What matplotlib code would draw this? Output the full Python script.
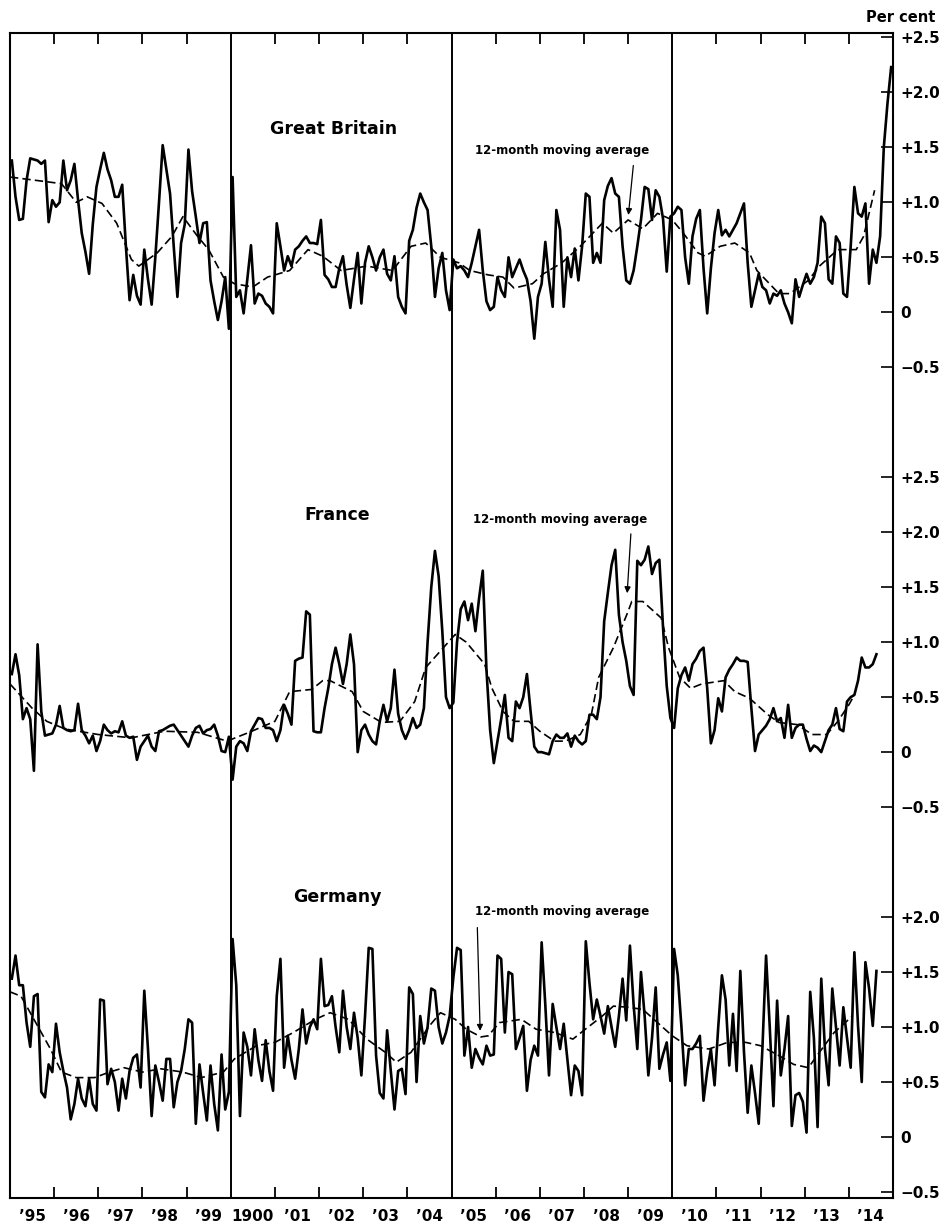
import matplotlib.pyplot as plt
import numpy as np

plt.rcParams['font.family'] = ['DejaVu Sans']
plt.rcParams['font.weight'] = 'bold'

# monthly values, per cent, starting January 1895
gb = [1.38, 1.05, 0.84, 0.85, 1.2, 1.4, 1.39, 1.38, 1.35, 1.38, 0.82, 1.02,
      0.96, 1.0, 1.38, 1.11, 1.2, 1.35, 1.02, 0.72, 0.55, 0.35, 0.8, 1.14,
      1.3, 1.45, 1.3, 1.2, 1.05, 1.05, 1.16, 0.6, 0.11, 0.34, 0.15, 0.07,
      0.57, 0.3, 0.07, 0.5, 1.0, 1.52, 1.3, 1.08, 0.6, 0.14, 0.63, 0.8,
      1.48, 1.1, 0.87, 0.63, 0.81, 0.82, 0.29, 0.1, -0.07, 0.1, 0.32, -0.15,
      1.23, 0.14, 0.2, -0.01, 0.3, 0.61, 0.08, 0.17, 0.15, 0.08, 0.05, -0.01,
      0.81, 0.6, 0.38, 0.51, 0.42, 0.57, 0.6, 0.65, 0.69, 0.63, 0.63, 0.62,
      0.84, 0.34, 0.3, 0.23, 0.23, 0.4, 0.51, 0.25, 0.04, 0.3, 0.54, 0.08,
      0.45, 0.6, 0.5, 0.38, 0.5, 0.57, 0.35, 0.29, 0.51, 0.14, 0.05, -0.01,
      0.65, 0.75, 0.95, 1.08, 1.0, 0.93, 0.6, 0.14, 0.4, 0.54, 0.2, 0.02,
      0.48, 0.4, 0.42, 0.38, 0.32, 0.45, 0.6, 0.75, 0.38, 0.1, 0.02, 0.05,
      0.32, 0.2, 0.14, 0.5, 0.32, 0.4, 0.48, 0.38, 0.3, 0.1, -0.24, 0.14,
      0.26, 0.64, 0.3, 0.05, 0.93, 0.75, 0.05, 0.5, 0.32, 0.58, 0.29, 0.6,
      1.08, 1.05, 0.45, 0.54, 0.45, 1.02, 1.15, 1.22, 1.08, 1.05, 0.6, 0.29,
      0.26, 0.38, 0.6, 0.84, 1.14, 1.12, 0.84, 1.11, 1.05, 0.85, 0.37, 0.87,
      0.9, 0.96, 0.93, 0.5, 0.26, 0.69, 0.85, 0.93, 0.4, -0.01, 0.4, 0.72,
      0.93, 0.7, 0.75, 0.69, 0.75, 0.81, 0.9, 0.99, 0.45, 0.05, 0.2, 0.35,
      0.23, 0.2, 0.08, 0.17, 0.15, 0.2, 0.08, 0.0, -0.1, 0.3, 0.14, 0.25,
      0.35, 0.26, 0.32, 0.45, 0.87, 0.81, 0.3, 0.26, 0.69, 0.63, 0.17, 0.14,
      0.6, 1.14, 0.9, 0.87, 0.99, 0.26, 0.57, 0.45, 0.69, 1.5, 1.9, 2.23]

fr = [0.71, 0.89, 0.7, 0.3, 0.4, 0.3, -0.17, 0.98, 0.37, 0.15, 0.16, 0.17,
      0.25, 0.42, 0.22, 0.2, 0.19, 0.2, 0.44, 0.2, 0.15, 0.08, 0.15, 0.01,
      0.1, 0.25, 0.2, 0.17, 0.19, 0.18, 0.28, 0.15, 0.13, 0.14, -0.07, 0.05,
      0.1, 0.15, 0.05, 0.01, 0.19, 0.2, 0.22, 0.24, 0.25, 0.2, 0.15, 0.1,
      0.05, 0.15, 0.22, 0.24, 0.17, 0.2, 0.21, 0.25, 0.15, 0.01, 0.0, 0.14,
      -0.25, 0.05, 0.1, 0.08, 0.01, 0.19, 0.25, 0.31, 0.3, 0.22, 0.22, 0.2,
      0.1, 0.2, 0.43, 0.35, 0.25, 0.83, 0.85, 0.86, 1.28, 1.25, 0.19, 0.18,
      0.18, 0.4, 0.58, 0.8, 0.95, 0.8, 0.62, 0.8, 1.07, 0.8, 0.0, 0.2,
      0.25, 0.16, 0.1, 0.07, 0.28, 0.43, 0.28, 0.4, 0.75, 0.35, 0.2, 0.12,
      0.2, 0.31, 0.22, 0.25, 0.4, 1.0, 1.5, 1.83, 1.6, 1.1, 0.5, 0.4,
      0.45, 1.0, 1.3, 1.37, 1.2, 1.35, 1.1, 1.4, 1.65, 0.75, 0.2, -0.1,
      0.1, 0.3, 0.52, 0.13, 0.1, 0.46, 0.4, 0.5, 0.71, 0.37, 0.05, 0.0,
      0.0, -0.01, -0.02, 0.1, 0.16, 0.13, 0.13, 0.17, 0.05, 0.15, 0.1, 0.07,
      0.1, 0.34, 0.34, 0.3, 0.5, 1.19, 1.45, 1.7, 1.84, 1.25, 1.0, 0.83,
      0.6, 0.52, 1.74, 1.7, 1.75, 1.87, 1.62, 1.72, 1.75, 1.13, 0.6, 0.31,
      0.22, 0.58, 0.7, 0.77, 0.65, 0.8, 0.85, 0.92, 0.95, 0.58, 0.08, 0.2,
      0.49, 0.37, 0.68, 0.75, 0.8, 0.86, 0.83, 0.83, 0.82, 0.4, 0.01, 0.16,
      0.2, 0.24, 0.3, 0.4, 0.28, 0.31, 0.13, 0.43, 0.13, 0.22, 0.25, 0.25,
      0.12, 0.01, 0.06, 0.04, 0.0, 0.1, 0.2, 0.25, 0.4, 0.21, 0.19, 0.46,
      0.5, 0.52, 0.65, 0.86, 0.77, 0.77, 0.8, 0.89]

de = [1.44, 1.65, 1.38, 1.38, 1.04, 0.82, 1.28, 1.3, 0.41, 0.36, 0.66, 0.59,
      1.03, 0.77, 0.6, 0.45, 0.16, 0.3, 0.53, 0.35, 0.28, 0.53, 0.3, 0.24,
      1.25, 1.24, 0.48, 0.62, 0.5, 0.24, 0.53, 0.35, 0.6, 0.72, 0.75, 0.45,
      1.33, 0.8, 0.19, 0.65, 0.5, 0.33, 0.71, 0.71, 0.27, 0.5, 0.6, 0.8,
      1.07, 1.04, 0.12, 0.66, 0.4, 0.15, 0.65, 0.3, 0.06, 0.75, 0.25, 0.41,
      1.8, 1.38, 0.19, 0.95, 0.82, 0.56, 0.98, 0.7, 0.51, 0.88, 0.6, 0.42,
      1.28, 1.62, 0.63, 0.92, 0.7, 0.53, 0.8, 1.16, 0.85, 1.0, 1.07, 0.98,
      1.62, 1.19, 1.2, 1.28, 1.0, 0.77, 1.33, 1.0, 0.8, 1.13, 0.9, 0.56,
      1.1, 1.72, 1.71, 0.74, 0.4, 0.35, 0.97, 0.6, 0.25, 0.6, 0.62, 0.39,
      1.36, 1.3, 0.5, 1.1, 0.85, 1.0, 1.35, 1.33, 1.0, 0.85, 0.95, 1.1,
      1.45, 1.72, 1.7, 0.74, 1.0, 0.63, 0.8, 0.72, 0.66, 0.83, 0.74, 0.75,
      1.65, 1.62, 0.95, 1.5, 1.48, 0.8, 0.9, 1.01, 0.42, 0.7, 0.83, 0.74,
      1.77, 1.2, 0.56, 1.21, 1.0, 0.8, 1.03, 0.7, 0.38, 0.65, 0.6, 0.38,
      1.78, 1.4, 1.07, 1.25, 1.1, 0.94, 1.19, 1.0, 0.82, 1.1, 1.44, 1.06,
      1.74, 1.2, 0.8, 1.5, 1.1, 0.56, 0.9, 1.36, 0.62, 0.75, 0.86, 0.51,
      1.71, 1.47, 1.0, 0.47, 0.8, 0.8, 0.85, 0.92, 0.33, 0.6, 0.8, 0.47,
      1.0, 1.47, 1.25, 0.65, 1.12, 0.6, 1.51, 0.77, 0.22, 0.65, 0.4, 0.12,
      0.8, 1.65, 1.0, 0.28, 1.24, 0.56, 0.8, 1.1, 0.1, 0.38, 0.4, 0.32,
      0.04, 1.32, 0.9, 0.09, 1.44, 0.8, 0.47, 1.35, 1.0, 0.65, 1.18, 0.9,
      0.63, 1.68, 1.01, 0.5, 1.59, 1.35, 1.01, 1.51]

# 12-month moving averages (month index, value)
gb_ma_month = [0, 7, 14, 18, 21, 25, 29, 33, 35, 40, 44, 47, 51, 54, 58, 61, 66, 70, 76, 81,
               85, 90, 97, 104, 109, 113, 117, 122, 125, 130, 134, 137, 142, 145, 150, 155,
               161, 164, 168, 172, 176, 180, 183, 187, 189, 193, 197, 201, 203, 209, 212,
               217, 220, 225, 230, 232, 235]
gb_ma = [1.23, 1.2, 1.17, 1.0, 1.05, 0.99, 0.81, 0.48, 0.42, 0.54, 0.69, 0.87, 0.69, 0.57, 0.32,
         0.26, 0.23, 0.32, 0.38, 0.57, 0.51, 0.38, 0.42, 0.38, 0.6, 0.63, 0.5, 0.45, 0.38, 0.34,
         0.32, 0.22, 0.26, 0.35, 0.45, 0.6, 0.81, 0.72, 0.84, 0.76, 0.9, 0.84, 0.72, 0.54, 0.51,
         0.6, 0.63, 0.54, 0.38, 0.17, 0.17, 0.29, 0.42, 0.57, 0.57, 0.69, 1.11]

fr_ma_month = [0, 6, 10, 15, 24, 33, 42, 51, 59, 65, 72, 76, 82, 85, 87, 93, 96, 101, 106, 110,
               113, 117, 121, 124, 129, 131, 134, 137, 141, 144, 148, 151, 155, 158, 160, 164,
               168, 169, 172, 177, 179, 182, 185, 188, 194, 197, 201, 206, 209, 214, 218, 222,
               225, 228, 229]
fr_ma = [0.62, 0.4, 0.28, 0.21, 0.16, 0.13, 0.19, 0.18, 0.1, 0.18, 0.28, 0.55, 0.57, 0.65, 0.65,
         0.55, 0.37, 0.27, 0.28, 0.46, 0.77, 0.92, 1.07, 1.0, 0.8, 0.58, 0.37, 0.28, 0.28, 0.19,
         0.1, 0.1, 0.16, 0.34, 0.68, 0.95, 1.28, 1.37, 1.37, 1.22, 0.95, 0.68, 0.58, 0.62, 0.65,
         0.55, 0.49, 0.34, 0.27, 0.25, 0.16, 0.16, 0.28, 0.43, 0.49]

de_ma_month = [0, 3, 7, 11, 14, 18, 23, 27, 31, 36, 41, 47, 52, 58, 61, 67, 72, 77, 83, 87,
               92, 97, 102, 105, 109, 114, 117, 121, 124, 128, 130, 133, 137, 139, 143, 148,
               153, 156, 161, 164, 168, 172, 175, 180, 184, 190, 195, 200, 204, 209, 213, 217,
               220, 224, 228, 229]
de_ma = [1.32, 1.28, 1.04, 0.8, 0.59, 0.54, 0.54, 0.59, 0.63, 0.59, 0.62, 0.59, 0.54, 0.59, 0.71,
         0.83, 0.86, 0.95, 1.07, 1.13, 1.07, 0.89, 0.77, 0.68, 0.77, 1.01, 1.13, 1.07, 0.98, 0.91,
         0.92, 1.04, 1.06, 1.07, 0.98, 0.95, 0.89, 0.97, 1.1, 1.19, 1.18, 1.16, 1.07, 0.92, 0.83,
         0.8, 0.86, 0.86, 0.83, 0.74, 0.66, 0.63, 0.77, 0.95, 1.07, 1.1]

year_labels = ['\u201995', '\u201996', '\u201997', '\u201998', '\u201999', '1900',
               '\u201901', '\u201902', '\u201903', '\u201904', '\u201905', '\u201906',
               '\u201907', '\u201908', '\u201909', '\u201910', '\u201911', '\u201912',
               '\u201913', '\u201914']

# vertical stacking of the three panels (in per-cent units)
off_gb, off_fr, off_de = 7.5, 3.5, 0.0

fig = plt.figure(figsize=(9.52, 12.31), dpi=100)
ax = fig.add_axes([10 / 952, 1 - 1198 / 1231, 883 / 952, 1165 / 1231])
ax.set_xlim(0, 240)
ax.set_ylim(-0.555, 10.04)

for vals, ma_m, ma_v, off in [(gb, gb_ma_month, gb_ma, off_gb),
                              (fr, fr_ma_month, fr_ma, off_fr),
                              (de, de_ma_month, de_ma, off_de)]:
    ax.plot(np.arange(len(vals)) + 0.5, np.array(vals) + off, color='black', lw=1.9,
            solid_joinstyle='round')
    ax.plot(ma_m, np.array(ma_v) + off, color='black', lw=1.2, linestyle=(0, (5, 2.5)))

for m in [60, 120, 180]:
    ax.axvline(m, color='black', lw=1.4)

for s in ax.spines.values():
    s.set_linewidth(1.5)

# right-hand scale for each panel
ticks, labels = [], []
names = {-0.5: '\u22120.5', 0.0: '0', 0.5: '+0.5', 1.0: '+1.0', 1.5: '+1.5', 2.0: '+2.0', 2.5: '+2.5'}
for off, top in [(off_de, 2.0), (off_fr, 2.5), (off_gb, 2.5)]:
    for v in np.arange(-0.5, top + 0.01, 0.5):
        ticks.append(off + v)
        labels.append(names[round(v, 1)])
ax.yaxis.tick_right()
ax.set_yticks(ticks)
ax.set_yticklabels(labels)
ax.tick_params(axis='y', direction='in', length=9, width=1.2, labelsize=11, pad=5,
               left=False, right=True)

# year boundary ticks top and bottom, year labels centred below
bounds = [12 * i for i in range(1, 20) if i % 5 != 0]
ax.set_xticks(bounds)
ax.set_xticklabels([])
ax.tick_params(axis='x', which='major', direction='in', length=8, width=1.3,
               top=True, bottom=True)
ax.set_xticks([12 * i + 6 for i in range(20)], minor=True)
ax.set_xticklabels(year_labels, minor=True)
ax.tick_params(axis='x', which='minor', length=0, labelsize=11, pad=8)

# panel titles
ax.text(88, off_gb + 1.67, 'Great Britain', ha='center', va='center', fontsize=12.5, weight='bold')
ax.text(89, off_fr + 2.16, 'France', ha='center', va='center', fontsize=12.5, weight='bold')
ax.text(89, off_de + 2.18, 'Germany', ha='center', va='center', fontsize=12.5, weight='bold')

# moving average labels with arrows
arrow = dict(arrowstyle='-|>', color='black', lw=0.9, mutation_scale=9)
for tx, ty, ax0, ay0, ax1, ay1, off in [(150, 1.47, 169.5, 1.36, 168, 0.86, off_gb),
                                        (149.5, 2.12, 168.8, 2.01, 167.7, 1.42, off_fr),
                                        (150, 2.05, 127, 1.93, 127.8, 0.94, off_de)]:
    ax.text(tx, ty + off, '12-month moving average', ha='center', va='center',
            fontsize=8.5, weight='bold')
    ax.annotate('', xy=(ax1, ay1 + off), xytext=(ax0, ay0 + off), arrowprops=arrow)

fig.text(935 / 952, 1 - 17 / 1231, 'Per cent', ha='right', va='center', fontsize=10.5,
         weight='bold')

fig.savefig('out.png', dpi=100)
